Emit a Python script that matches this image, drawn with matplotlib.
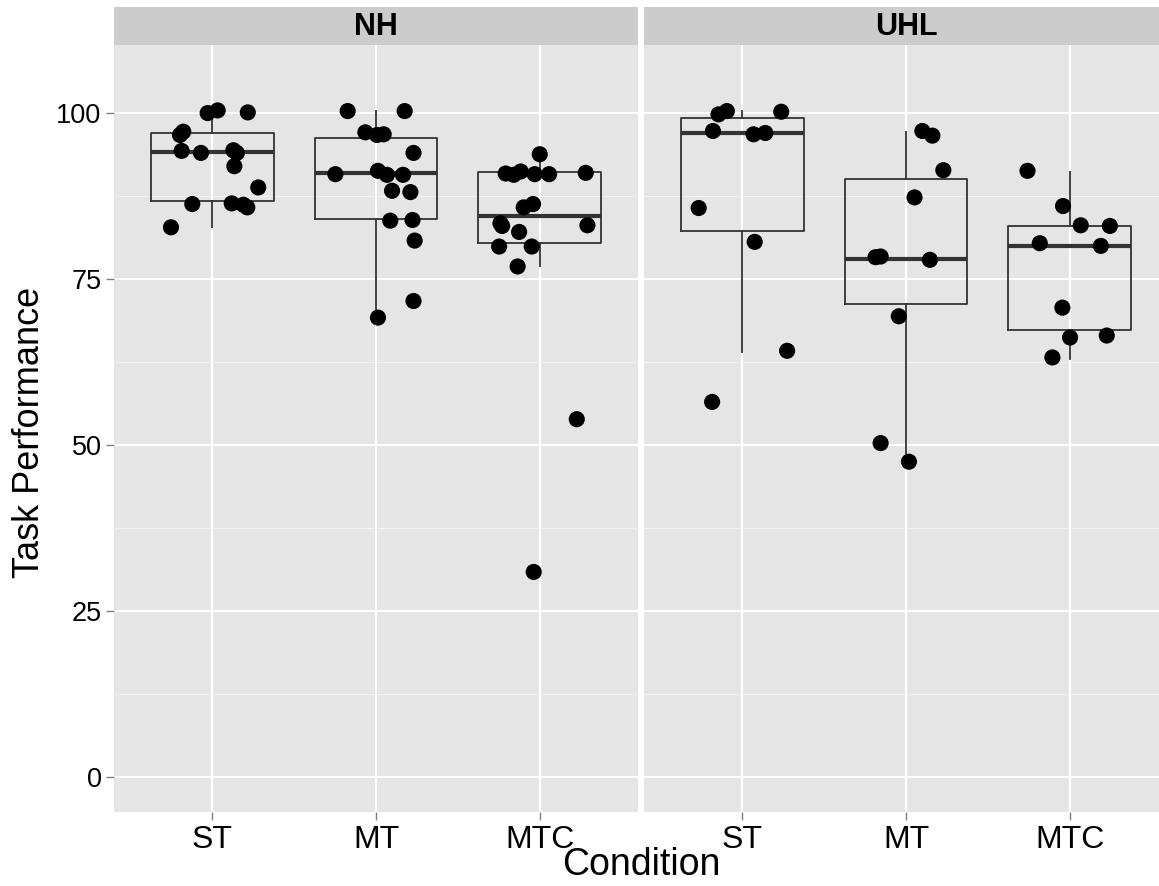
import numpy as np
import matplotlib.pyplot as plt

groups = ['NH', 'UHL']
conditions = ['ST', 'MT', 'MTC']

# task performance per participant, with the horizontal jitter of each dot
nh_st = [100.0, 100.4, 100.1, 97.2, 96.7, 94.3, 94.0, 94.4, 94.0, 92.0, 88.8, 86.3, 86.4, 86.2, 85.8, 82.8]
nh_st_jit = [-0.028, 0.033, 0.217, -0.177, -0.197, -0.187, -0.069, 0.129, 0.150, 0.135, 0.281, -0.122, 0.119, 0.190, 0.214, -0.252]
nh_mt = [100.3, 100.3, 97.1, 96.7, 96.8, 94.0, 90.8, 91.3, 90.7, 90.7, 88.3, 88.1, 83.8, 83.9, 80.8, 71.7, 69.2]
nh_mt_jit = [-0.173, 0.175, -0.065, 0.006, 0.047, 0.229, -0.248, 0.012, 0.067, 0.165, 0.098, 0.210, 0.087, 0.223, 0.236, 0.229, 0.012]
nh_mtc = [93.8, 90.9, 90.7, 91.2, 90.8, 90.8, 91.0, 85.8, 86.3, 83.4, 83.0, 83.1, 82.1, 79.9, 79.9, 76.9, 53.9, 30.9]
nh_mtc_jit = [0.0, -0.208, -0.159, -0.116, -0.031, 0.057, 0.281, -0.098, -0.041, -0.240, -0.230, 0.291, -0.126, -0.248, -0.049, -0.135, 0.226, -0.037]

uhl_st = [99.8, 100.3, 100.2, 97.3, 96.8, 97.0, 85.7, 80.6, 64.2, 56.5]
uhl_st_jit = [-0.145, -0.094, 0.238, -0.179, 0.069, 0.141, -0.266, 0.076, 0.274, -0.184]
uhl_mt = [97.3, 96.6, 91.4, 87.3, 78.3, 78.4, 77.9, 69.4, 50.3, 47.5]
uhl_mt_jit = [0.100, 0.161, 0.228, 0.052, -0.186, -0.155, 0.146, -0.044, -0.155, 0.018]
uhl_mtc = [91.3, 86.0, 83.1, 83.0, 80.4, 80.0, 70.7, 66.2, 66.5, 63.2]
uhl_mtc_jit = [-0.258, -0.041, 0.067, 0.245, -0.183, 0.190, -0.045, 0.002, 0.226, -0.106]

# box summaries (lower whisker, Q1, median, Q3, upper whisker) per condition
nh_lo = [82.9, 69.2, 77.0]
nh_q1 = [86.8, 84.1, 80.5]
nh_med = [94.1, 91.0, 84.5]
nh_q3 = [97.0, 96.3, 91.1]
nh_hi = [100.4, 100.3, 93.8]

uhl_lo = [64.0, 47.5, 63.0]
uhl_q1 = [82.3, 71.3, 67.3]
uhl_med = [97.0, 78.0, 80.0]
uhl_q3 = [99.3, 90.0, 83.0]
uhl_hi = [100.3, 97.2, 91.1]

points = {
    'NH': [(nh_st, nh_st_jit), (nh_mt, nh_mt_jit), (nh_mtc, nh_mtc_jit)],
    'UHL': [(uhl_st, uhl_st_jit), (uhl_mt, uhl_mt_jit), (uhl_mtc, uhl_mtc_jit)],
}
boxes = {
    'NH': (nh_lo, nh_q1, nh_med, nh_q3, nh_hi),
    'UHL': (uhl_lo, uhl_q1, uhl_med, uhl_q3, uhl_hi),
}

plt.rcParams['font.family'] = ['Liberation Sans', 'DejaVu Sans']
W, H = 1159, 886
fig = plt.figure(figsize=(W / 100, H / 100), dpi=100)

lefts = [114, 644]
panel_w = 524
top, bottom = 45, 812

for g, left in zip(groups, lefts):
    ax = fig.add_axes([left / W, 1 - bottom / H, panel_w / W, (bottom - top) / H])
    ax.set_facecolor('#E5E5E5')
    for s in ax.spines.values():
        s.set_visible(False)

    # grid: white major lines, faint minor lines
    for y in [12.5, 37.5, 62.5, 87.5]:
        ax.axhline(y, color='#F2F2F2', lw=0.8, zorder=0)
    ax.grid(True, which='major', color='white', lw=1.5, zorder=0)
    ax.set_axisbelow(True)

    lo, q1, med, q3, hi = boxes[g]
    stats = []
    for i in range(3):
        stats.append({'whislo': lo[i], 'q1': q1[i], 'med': med[i], 'q3': q3[i],
                      'whishi': hi[i], 'fliers': []})
    ax.bxp(stats, positions=[1, 2, 3], widths=0.75, showfliers=False, showcaps=False,
           boxprops=dict(color='#333333', lw=1.3),
           whiskerprops=dict(color='#333333', lw=1.3),
           medianprops=dict(color='#333333', lw=3.0, solid_capstyle='butt'),
           manage_ticks=False, zorder=2)

    for i, (vals, jit) in enumerate(points[g]):
        x = i + 1 + np.array(jit)
        ax.scatter(x, vals, s=135, color='black', edgecolors='none', zorder=3)

    ax.set_xlim(0.4, 3.6)
    ax.set_ylim(-5.25, 110.25)
    ax.set_xticks([1, 2, 3])
    ax.set_xticklabels(conditions, fontsize=23)
    ax.set_yticks([0, 25, 50, 75, 100])
    ax.set_yticklabels(['0', '25', '50', '75', '100'], fontsize=19.5)
    ax.tick_params(axis='both', color='#7F7F7F', length=6, width=1, pad=3)
    if g == 'UHL':
        ax.tick_params(axis='y', labelleft=False, length=0)

    # facet strip
    sax = fig.add_axes([left / W, 1 - top / H, panel_w / W, 38 / H])
    sax.set_facecolor('#CCCCCC')
    sax.set_xticks([])
    sax.set_yticks([])
    for s in sax.spines.values():
        s.set_visible(False)
    sax.text(0.5, 0.47, g, ha='center', va='center', fontsize=22, fontweight='bold',
             transform=sax.transAxes)

fig.text(30 / W, 1 - 432 / H, 'Task Performance', rotation=90, ha='center', va='center',
         fontsize=26)
fig.text(641 / W, 1 - 865 / H, 'Condition', ha='center', va='center', fontsize=27)

plt.savefig('out.png', dpi=100, facecolor='white')
